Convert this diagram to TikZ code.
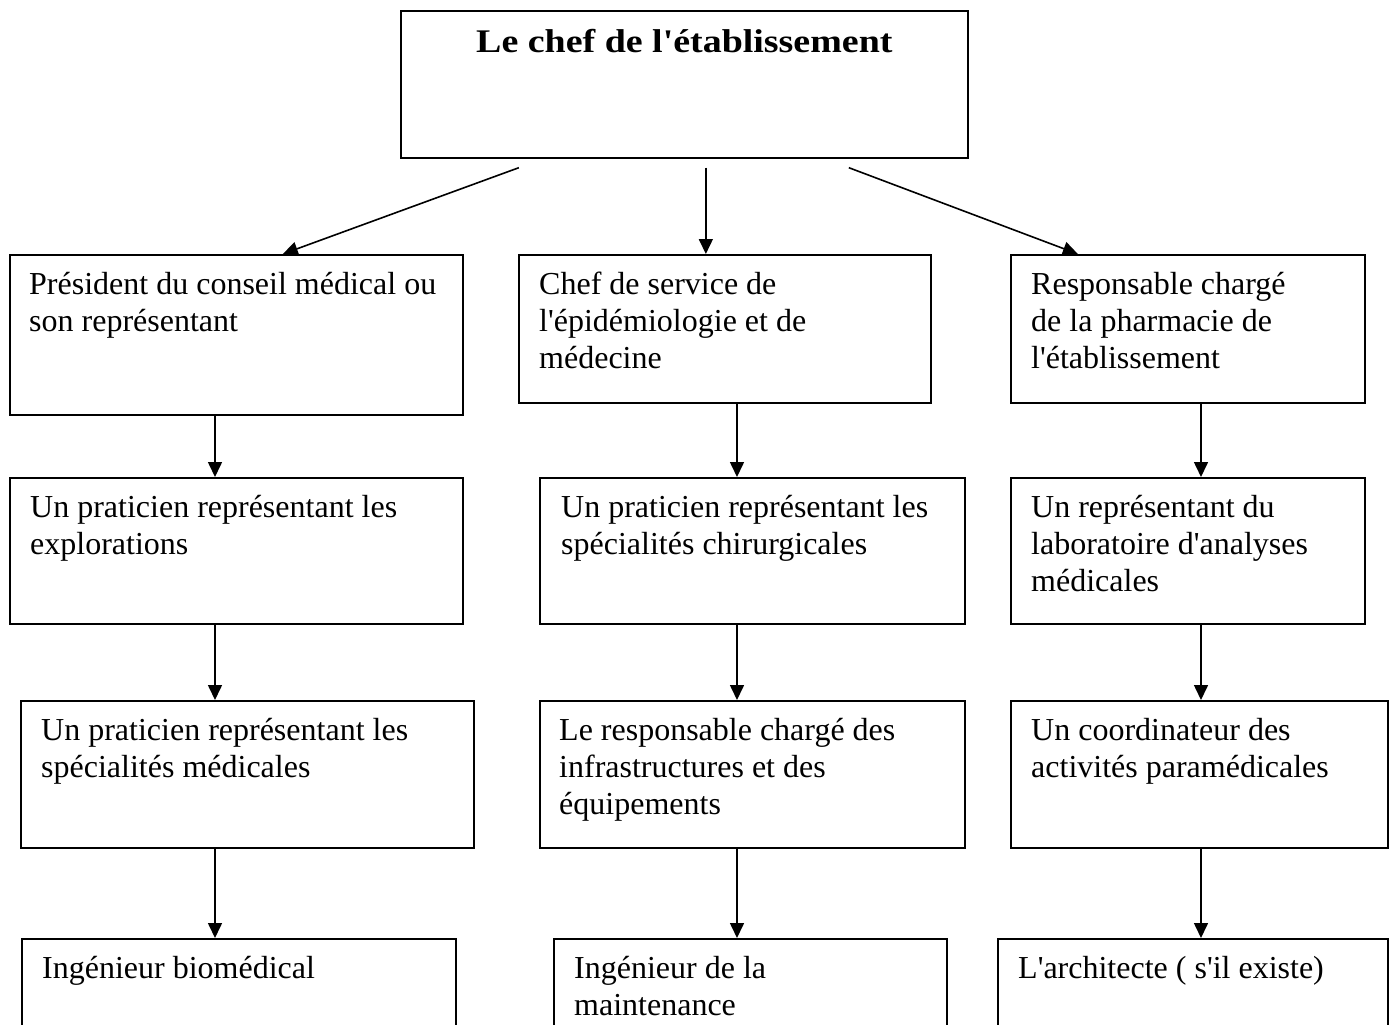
\documentclass[tikz,border=0pt]{standalone}
\usepackage{fontspec}
\setmainfont{Liberation Serif}
\usepackage{graphicx}
\usepackage{tikz}
\usetikzlibrary{arrows.meta,calc}
\newcommand\apos{\textquotesingle}
\newcommand\orgSize{\fontsize{32}{36.8}\selectfont}
\tikzset{
  orgBox/.style={draw=black, line width=1.7pt, inner sep=0pt, anchor=north west},
  orgText/.style={anchor=north west, inner sep=0pt, align=left, font=\orgSize},
  orgTitle/.style={anchor=base, inner sep=0pt, font=\fontsize{33}{38}\selectfont\bfseries},
  orgArrow/.style={draw=black, line width=1.6pt, -{Triangle[length=15pt,width=14pt]}}
}

\begin{document}
\begin{tikzpicture}[x=1pt,y=-1pt]
  \useasboundingbox (0,0) rectangle (1393,1025);
  \clip (0,0) rectangle (1393,1025);

  \coordinate (colL) at (215,0);
  \coordinate (colM) at (737,0);
  \coordinate (colR) at (1201,0);

  % head of the establishment
  \node[orgBox, minimum width=567, minimum height=147] (chef) at (400,10) {};
  \node[orgTitle] (chefText) at ([shift={(0,43)}]chef.north)
    {\scalebox{1.15}[1]{Le chef de l\apos établissement}};

  % first row
  \node[orgBox, minimum width=453, minimum height=160] (pres) at (9,254) {};
  \node[orgBox, minimum width=412, minimum height=148] (epidem) at (518,254) {};
  \node[orgBox, minimum width=354, minimum height=148] (pharma) at (1010,254) {};

  % second row
  \node[orgBox, minimum width=453, minimum height=146] (explo) at (9,477) {};
  \node[orgBox, minimum width=425, minimum height=146] (chir) at (539,477) {};
  \node[orgBox, minimum width=354, minimum height=146] (labo) at (1010,477) {};

  % third row
  \node[orgBox, minimum width=453, minimum height=147] (medic) at (20,700) {};
  \node[orgBox, minimum width=425, minimum height=147] (infra) at (539,700) {};
  \node[orgBox, minimum width=377, minimum height=147] (parmed) at (1010,700) {};

  % last row (runs off the page)
  \node[orgBox, minimum width=434, minimum height=120] (biomed) at (21,938) {};
  \node[orgBox, minimum width=393, minimum height=120] (maint) at (553,938) {};
  \node[orgBox, minimum width=390, minimum height=120] (archi) at (997,938) {};

  % texts
  \node[orgText] (presText) at ([shift={(20,14.7)}]pres.north west)
    {\strut Président du conseil médical ou\\son représentant};
  \node[orgText] (epidemText) at ([shift={(21,14.7)}]epidem.north west)
    {\strut Chef de service de\\l\apos épidémiologie et de\\médecine};
  \node[orgText] (pharmaText) at ([shift={(21,14.7)}]pharma.north west)
    {\strut Responsable chargé\\de la pharmacie de\\l\apos établissement};
  \node[orgText] (exploText) at ([shift={(21,14.7)}]explo.north west)
    {\strut Un praticien représentant les\\explorations};
  \node[orgText] (chirText) at ([shift={(22,14.7)}]chir.north west)
    {\strut Un praticien représentant les\\spécialités chirurgicales};
  \node[orgText] (laboText) at ([shift={(21,14.7)}]labo.north west)
    {\strut Un représentant du\\laboratoire d\apos analyses\\médicales};
  \node[orgText] (medicText) at ([shift={(21,14.7)}]medic.north west)
    {\strut Un praticien représentant les\\spécialités médicales};
  \node[orgText] (infraText) at ([shift={(20,14.7)}]infra.north west)
    {\strut Le responsable chargé des\\infrastructures et des\\équipements};
  \node[orgText] (parmedText) at ([shift={(21,14.7)}]parmed.north west)
    {\strut Un coordinateur des\\activités paramédicales};
  \node[orgText] (biomedText) at ([shift={(21,14.7)}]biomed.north west)
    {\strut Ingénieur biomédical};
  \node[orgText] (maintText) at ([shift={(21,14.7)}]maint.north west)
    {\strut Ingénieur de la\\maintenance};
  \node[orgText] (archiText) at ([shift={(21,14.7)}]archi.north west)
    {\strut L\apos architecte ( s\apos il existe)};

  % arrows from the head
  \draw[orgArrow] ([shift={(-165.5,9)}]chef.south) -- ([shift={(46.5,0)}]pres.north);
  \draw[orgArrow] ([shift={(21.5,9)}]chef.south) -- ([shift={(-19,0)}]epidem.north);
  \draw[orgArrow] ([shift={(164.5,9)}]chef.south) -- ([shift={(-110,0)}]pharma.north);

  % arrows down the columns
  \draw[orgArrow] (pres.south -| colL) -- (explo.north -| colL);
  \draw[orgArrow] (explo.south -| colL) -- (medic.north -| colL);
  \draw[orgArrow] (medic.south -| colL) -- (biomed.north -| colL);

  \draw[orgArrow] (epidem.south -| colM) -- (chir.north -| colM);
  \draw[orgArrow] (chir.south -| colM) -- (infra.north -| colM);
  \draw[orgArrow] (infra.south -| colM) -- (maint.north -| colM);

  \draw[orgArrow] (pharma.south -| colR) -- (labo.north -| colR);
  \draw[orgArrow] (labo.south -| colR) -- (parmed.north -| colR);
  \draw[orgArrow] (parmed.south -| colR) -- (archi.north -| colR);
\end{tikzpicture}
\end{document}
